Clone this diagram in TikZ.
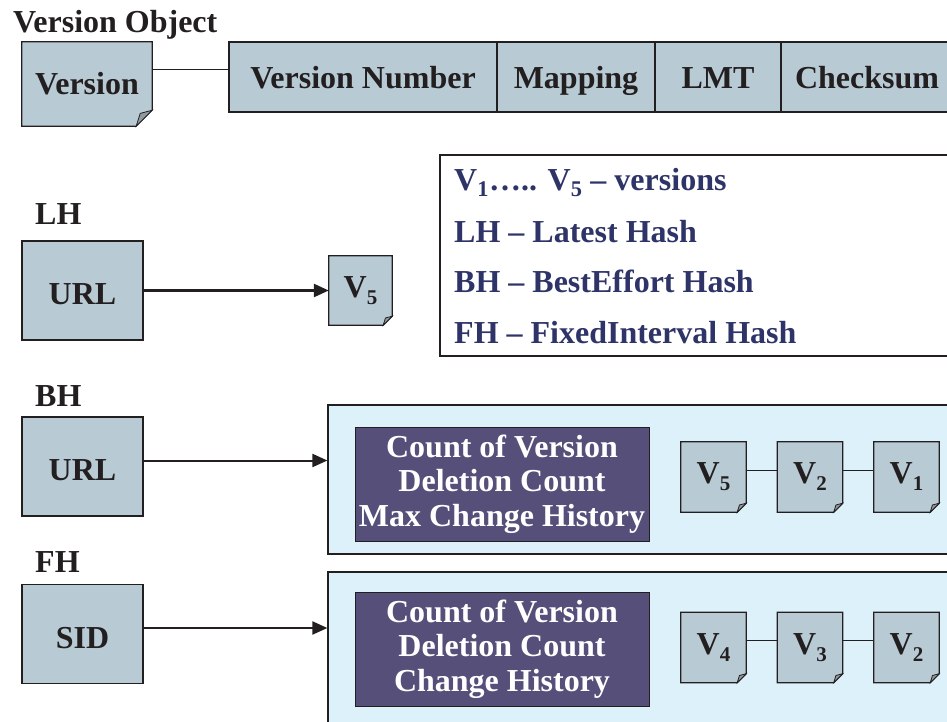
\documentclass[tikz,border=0pt]{standalone}
\usepackage{fontspec}
\setmainfont{Liberation Serif}[BoldFont={Liberation Serif Bold}]
\usetikzlibrary{arrows.meta}
\definecolor{boxfill}{HTML}{B8CBD5}
\definecolor{foldfill}{HTML}{8E9AA2}
\definecolor{purp}{HTML}{564F79}
\definecolor{lightbg}{HTML}{DDF1FA}
\definecolor{legendtext}{HTML}{2E3468}
\definecolor{inkc}{HTML}{231F20}
\pgfdeclarelayer{bg}
\pgfdeclarelayer{mid}
\pgfsetlayers{bg,mid,main}
\newcommand\vsub[1]{V\raisebox{-7pt}{\fontsize{21}{21}\selectfont #1}}
\tikzset{
  base/.style={inner sep=0pt, font=\fontsize{32}{34.5}\selectfont\bfseries, text=inkc},
  field/.style={base, draw=inkc, fill=boxfill, line width=1.2pt, minimum height=70pt, text height=23pt, text depth=0pt},
  keybox/.style={base, draw=inkc, fill=boxfill, line width=1.2pt, minimum width=121pt, minimum height=99pt, text height=28pt, text depth=0pt},
  docnode/.style={base},
  lbl/.style={base, anchor=base west},
  legend/.style={base, text=legendtext, anchor=base west},
  info/.style={base, fill=purp, draw=inkc, text=white, align=center, minimum width=294pt, line width=1pt},
  container/.style={draw=inkc, fill=lightbg, line width=1.2pt, inner sep=0pt},
  link/.style={draw=inkc, line width=1pt},
  pointer/.style={draw=inkc, line width=2pt, -{Triangle[length=15pt,width=13pt]}},
}
\newcommand\docshape[2]{%
  \begin{pgfonlayer}{mid}
  \filldraw[fill=boxfill, draw=inkc, line width=1.2pt]
    (#1.north west) -- (#1.north east) -- ([yshift=#2]#1.south east)
    -- ([xshift=-#2]#1.south east) -- (#1.south west) -- cycle;
  \filldraw[fill=foldfill, draw=inkc, line width=0.8pt]
    ([yshift=#2]#1.south east) -- ([xshift=-#2]#1.south east)
    -- ([xshift=-0.75*#2, yshift=0.8*#2]#1.south east) -- cycle;
  \end{pgfonlayer}}
\begin{document}
\begin{tikzpicture}[x=1pt,y=-1pt]
\useasboundingbox (0,0) rectangle (947,722);
\clip (0,0) rectangle (947,722);

% Version object
\node[lbl] (title) at (13,33) {Version Object};
\node[docnode, minimum width=130pt, minimum height=84pt] (ver) at (87,84) {Version};
\docshape{ver}{16pt}
\node[field, minimum width=268pt] (vn) at (363,77) {Version Number};
\node[field, minimum width=158pt] (map) at (576,77) {Mapping};
\node[field, minimum width=126pt] (lmt) at (718,77) {LMT};
\node[field, minimum width=172pt] (cks) at (867,77) {Checksum};
\draw[link] ([yshift=14pt]ver.east) -- ([yshift=14pt]ver.east -| vn.west);

% Legend
\node[draw=inkc, line width=1.2pt, minimum width=520pt, minimum height=201pt, inner sep=0pt] (leg) at (700,255.5) {};
\node[legend] (l1) at (454,190) {V\textsubscript{1}….. V\textsubscript{5} – versions};
\node[legend] (l2) at (454,242) {LH – Latest Hash};
\node[legend] (l3) at (454,292) {BH – BestEffort Hash};
\node[legend] (l4) at (454,343) {FH – FixedInterval Hash};

% LH
\node[lbl] (lh) at (35,224) {LH};
\node[keybox] (url1) at (82.5,290.5) {URL};
\node[docnode, minimum width=63pt, minimum height=69pt] (lv5) at (360.5,290.5) {\vsub{5}};
\docshape{lv5}{9pt}
\draw[pointer, line width=2.6pt] (url1) -- (lv5);

% BH
\node[lbl] (bh) at (35,406) {BH};
\node[keybox] (url2) at (82.5,466.5) {URL};
\begin{pgfonlayer}{bg}
\node[container, minimum width=632pt, minimum height=149pt] (bhc) at (644,479.5) {};
\end{pgfonlayer}
\draw[pointer] ([yshift=6pt]url2.east) -- ([yshift=6pt]url2.east -| bhc.west);
\node[info, minimum height=114pt] (bhi) at (502,484) {Count of Version\\Deletion Count\\Max Change History};
\node[docnode, minimum width=65pt, minimum height=70pt] (bv5) at (713.5,477) {\vsub{5}};
\node[docnode, minimum width=65pt, minimum height=70pt] (bv2) at (810,477) {\vsub{2}};
\node[docnode, minimum width=65pt, minimum height=70pt] (bv1) at (906.5,477) {\vsub{1}};
\docshape{bv5}{9pt}
\docshape{bv2}{9pt}
\docshape{bv1}{9pt}
\draw[link] ([yshift=7pt]bv5.east) -- ([yshift=7pt]bv2.west);
\draw[link] ([yshift=7pt]bv2.east) -- ([yshift=7pt]bv1.west);

% FH
\node[lbl] (fh) at (35,572) {FH};
\node[keybox] (sid) at (82.5,634) {SID};
\begin{pgfonlayer}{bg}
\node[container, minimum width=632pt, minimum height=168pt] (fhc) at (644,656) {};
\end{pgfonlayer}
\draw[pointer] ([yshift=6pt]sid.east) -- ([yshift=6pt]sid.east -| fhc.west);
\node[info, minimum height=114pt] (fhi) at (502,649) {Count of Version\\Deletion Count\\Change History};
\node[docnode, minimum width=65pt, minimum height=70pt] (fv4) at (713.5,647.5) {\vsub{4}};
\node[docnode, minimum width=65pt, minimum height=70pt] (fv3) at (810,647.5) {\vsub{3}};
\node[docnode, minimum width=65pt, minimum height=70pt] (fv2) at (906.5,647.5) {\vsub{2}};
\docshape{fv4}{9pt}
\docshape{fv3}{9pt}
\docshape{fv2}{9pt}
\draw[link] ([yshift=7pt]fv4.east) -- ([yshift=7pt]fv3.west);
\draw[link] ([yshift=7pt]fv3.east) -- ([yshift=7pt]fv2.west);
\end{tikzpicture}
\end{document}
